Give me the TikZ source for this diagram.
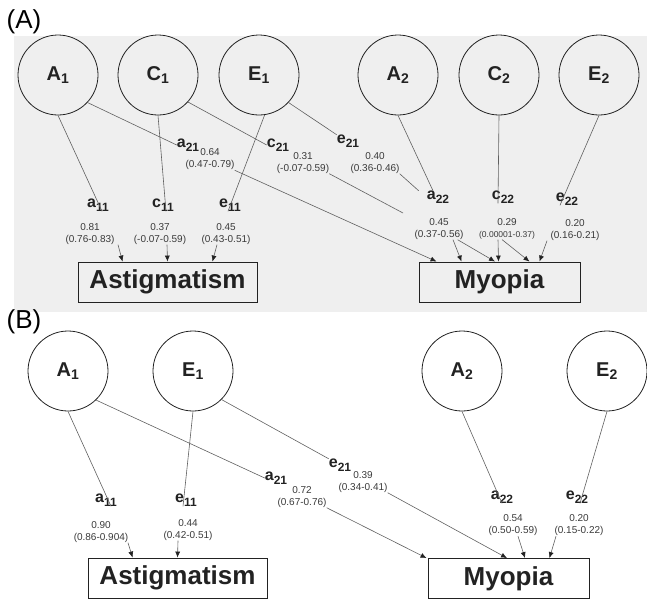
\documentclass[tikz,border=0pt]{standalone}
\usepackage{fontspec}
\setmainfont{Liberation Sans}
\usetikzlibrary{arrows.meta}
\definecolor{panel}{HTML}{EFEFEF}
\definecolor{ink}{HTML}{222222}
\definecolor{wirec}{HTML}{606060}
\definecolor{numc}{HTML}{3A3A3A}

% path coefficient label: letter with a lowered two-digit index
\newcommand{\pl}[2]{#1\raisebox{-3.5pt}{\fontsize{12}{12}\selectfont #2}}

\begin{document}
\begin{tikzpicture}[x=1pt,y=-1pt,
    lv/.style={circle,draw=ink,line width=0.8pt,minimum size=80pt,inner sep=0pt,
      font=\fontsize{20}{24}\selectfont\bfseries,text=ink},
    obs/.style={draw=ink,line width=0.9pt,minimum height=40pt,inner sep=0pt,
      font=\fontsize{26}{30}\selectfont\bfseries,text=ink},
    lab/.style={inner sep=0pt,font=\fontsize{16}{18}\selectfont\bfseries,text=ink},
    val/.style={inner sep=0pt,align=center,font=\fontsize{10}{12}\selectfont,text=numc},
    wire/.style={draw=wirec,line width=0.6pt},
    arr/.style={wire,-{Latex[length=6pt,width=5pt,color=ink]}}]
    \useasboundingbox (0,0) rectangle (647,600);
    % ---------------- panel (A): ACE model ----------------
    \fill[panel] (14,36) rectangle (647,312);
    \node[font=\fontsize{26}{30}\selectfont] (tagA) at (24,22) {(A)};
    \node[lv] (A1) at (58,75) {A\textsubscript{1}};
    \node[lv] (C1) at (158,75) {C\textsubscript{1}};
    \node[lv] (E1) at (259,75) {E\textsubscript{1}};
    \node[lv] (A2) at (398,75) {A\textsubscript{2}};
    \node[lv] (C2) at (499,75) {C\textsubscript{2}};
    \node[lv] (E2) at (599,75) {E\textsubscript{2}};
    \node[obs,minimum width=179pt] (AstA) at (167.5,282) {Astigmatism};
    \node[obs,minimum width=161pt] (MyoA) at (499.5,282) {Myopia};
    % coefficients
    \node[lab] (a11) at (98,205) {\pl{a}{11}};
    \node[val] (va11) at (90,234) {0.81\\(0.76-0.83)};
    \node[lab] (c11) at (163,205) {\pl{c}{11}};
    \node[val] (vc11) at (160,234) {0.37\\(-0.07-0.59)};
    \node[lab] (e11) at (230,205) {\pl{e}{11}};
    \node[val] (ve11) at (226,234) {0.45\\(0.43-0.51)};
    \node[lab] (a21) at (188,145) {\pl{a}{21}};
    \node[val] (va21) at (210,159.5) {0.64\\(0.47-0.79)};
    \node[lab] (c21) at (278,145) {\pl{c}{21}};
    \node[val] (vc21) at (303,163) {0.31\\(-0.07-0.59)};
    \node[lab] (e21) at (348,141) {\pl{e}{21}};
    \node[val] (ve21) at (375,163) {0.40\\(0.36-0.46)};
    \node[lab] (a22) at (438,197) {\pl{a}{22}};
    \node[val] (va22) at (439,229) {0.45\\(0.37-0.56)};
    \node[lab] (c22) at (503,197) {\pl{c}{22}};
    \node[val] (vc22) at (507,229) {0.29\\{\fontsize{8.5}{10}\selectfont(0.00001-0.37)}};
    \node[lab] (e22) at (567,199) {\pl{e}{22}};
    \node[val] (ve22) at (575,230) {0.20\\(0.16-0.21)};
    \coordinate (c21end) at (403,213);
    % paths into astigmatism
    \draw[wire] (A1.south) -- ([xshift=4pt]a11.south);
    \draw[arr] ([xshift=28pt]va11.south) -- ([xshift=45pt]AstA.north west);
    \draw[wire] (C1.south) -- ([xshift=3pt]c11.south);
    \draw[arr] ([xshift=7pt]vc11.south) -- (AstA.north);
    \draw[wire] (E1.-82) -- ([xshift=-2pt]e11.south);
    \draw[arr] ([xshift=-9pt]ve11.south) -- ([xshift=-45pt]AstA.north east);
    % paths into myopia
    \draw[wire] (A1.-43) -- (a21.west);
    \draw[arr] (va21.south east) -- ([xshift=18pt]MyoA.north west);
    \draw[wire] (C1.-42) -- (c21.west);
    \draw[wire] (vc21.south east) -- (c21end);
    \draw[arr] ([xshift=-5pt]vc22.south) -- ([xshift=30pt]MyoA.north);
    \draw[wire] (E1.-43) -- (e21.north west);
    \draw[wire] (ve21.south east) -- ([xshift=-8pt]a22.north west);
    \draw[arr] ([xshift=-6pt]va22.south east) -- ([xshift=-4.5pt]MyoA.north);
    \draw[wire] (A2.south) -- ([xshift=-5pt]a22.north);
    \draw[arr] ([xshift=14pt]va22.south) -- ([xshift=43pt]MyoA.north west);
    \draw[wire] (C2.south) -- ([xshift=-5pt]c22.south);
    \draw[arr] ([xshift=-9pt]vc22.south) -- ([xshift=-1pt]MyoA.north);
    \draw[wire] (E2.south) -- ([xshift=-7pt]e22.south);
    \draw[arr] ([xshift=-28pt]ve22.south) -- ([xshift=-41pt]MyoA.north east);
    % ---------------- panel (B): AE model ----------------
    \node[font=\fontsize{26}{30}\selectfont] (tagB) at (24,322) {(B)};
    \node[lv] (A1b) at (68,371) {A\textsubscript{1}};
    \node[lv] (E1b) at (193,371) {E\textsubscript{1}};
    \node[lv] (A2b) at (462,371) {A\textsubscript{2}};
    \node[lv] (E2b) at (607,371) {E\textsubscript{2}};
    \node[obs,minimum width=179pt] (AstB) at (177.5,578) {Astigmatism};
    \node[obs,minimum width=161pt] (MyoB) at (508.5,578.5) {Myopia};
    \node[lab] (a11b) at (106,500) {\pl{a}{11}};
    \node[val] (va11b) at (101,532) {0.90\\(0.86-0.904)};
    \node[lab] (e11b) at (186,500) {\pl{e}{11}};
    \node[val] (ve11b) at (188,530) {0.44\\(0.42-0.51)};
    \node[lab] (a21b) at (276,478) {\pl{a}{21}};
    \node[val] (va21b) at (302,497) {0.72\\(0.67-0.76)};
    \node[lab] (e21b) at (340,465) {\pl{e}{21}};
    \node[val] (ve21b) at (363,482) {0.39\\(0.34-0.41)};
    \node[lab] (a22b) at (502,497) {\pl{a}{22}};
    \node[val] (va22b) at (513,525.5) {0.54\\(0.50-0.59)};
    \node[lab] (e22b) at (577,497) {\pl{e}{22}};
    \node[val] (ve22b) at (579,525.5) {0.20\\(0.15-0.22)};
    \draw[wire] (A1b.south) -- ([xshift=5pt]a11b.south);
    \draw[arr] ([xshift=27pt]va11b.south) -- ([xshift=45pt]AstB.north west);
    \draw[wire] (E1b.south) -- ([xshift=-3pt]e11b.south);
    \draw[arr] ([xshift=-10pt]ve11b.south) -- (AstB.north);
    \draw[wire] (A1b.-46) -- (a21b.west);
    \draw[arr] (va21b.south east) -- ([xshift=-1pt]MyoB.north west);
    \draw[wire] (E1b.-45) -- (e21b.north west);
    \draw[arr] (ve21b.south east) -- ([xshift=-1.5pt]MyoB.north);
    \draw[wire] (A2b.south) -- (a22b.south);
    \draw[arr] ([xshift=5pt]va22b.south) -- ([xshift=16.5pt]MyoB.north);
    \draw[wire] (E2b.south) -- ([xshift=3pt]e22b.south);
    \draw[arr] ([xshift=-23pt]ve22b.south) -- ([xshift=-40pt]MyoB.north east);
\end{tikzpicture}
\end{document}
